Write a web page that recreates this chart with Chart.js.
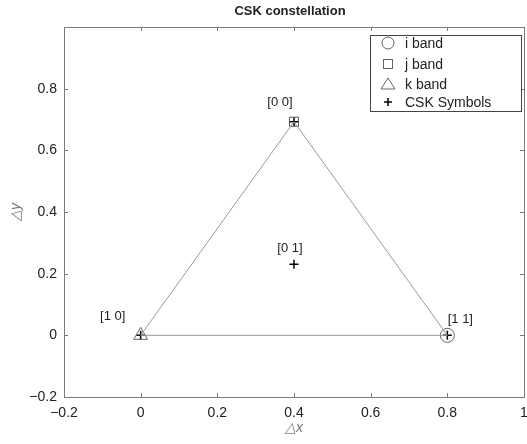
<!DOCTYPE html>
<html>
<head>
<meta charset="utf-8">
<script src="https://cdn.jsdelivr.net/npm/chart.js@4"></script>
<style>
  html, body { margin: 0; padding: 0; background: #fff; }
  #wrap { width: 527px; height: 444px; }
</style>
</head>
<body>
<div id="wrap"><canvas id="cskChart" width="527" height="444"></canvas></div>
<script>
// triangle edges (closed)
var edgeX = [0, 0.4, 0.8, 0];
var edgeY = [0, 0.6928, 0, 0];

// band markers
var iBandX = [0.8], iBandY = [0];
var jBandX = [0.4], jBandY = [0.6928];
var kBandX = [0], kBandY = [0];

// CSK symbols
var symbolX = [0.4, 0.4, 0, 0.8];
var symbolY = [0.6928, 0.2309, 0, 0];
var symbolNames = ['[0 0]', '[0 1]', '[1 0]', '[1 1]'];

var xTicks = [-0.2, 0, 0.2, 0.4, 0.6, 0.8, 1];
var yTicks = [-0.2, 0, 0.2, 0.4, 0.6, 0.8];

var legendNames = ['i band', 'j band', 'k band', 'CSK Symbols'];

// where the symbol names sit, relative to the point (px)
var nameOffsets = [[-14, -19], [-4, -16], [-28, -19], [13, -16]];

var FONT = '"Liberation Sans", Arial, sans-serif';

function pts(xs, ys) {
    return xs.map(function (x, i) { return {x: x, y: ys[i]}; });
}

function fmt(v) {
    var r = Math.round(v * 10) / 10;
    if (r === 0) return '0';
    return (r < 0 ? '\u2212' : '') + Math.abs(r);
}

var frame = {
    id: 'frame',
    afterDraw: function (chart) {
        var c = chart.ctx, a = chart.chartArea;
        var xs = chart.scales.x, ys = chart.scales.y;
        c.save();
        c.strokeStyle = '#7a7a7a';
        c.lineWidth = 1;
        c.strokeRect(a.left + 0.5, a.top + 0.5, a.right - a.left, a.bottom - a.top);
        c.beginPath();
        xTicks.forEach(function (t) {
            var px = Math.round(xs.getPixelForValue(t)) + 0.5;
            c.moveTo(px, a.bottom); c.lineTo(px, a.bottom - 4);
            c.moveTo(px, a.top); c.lineTo(px, a.top + 4);
        });
        yTicks.forEach(function (t) {
            var py = Math.round(ys.getPixelForValue(t)) + 0.5;
            c.moveTo(a.left, py); c.lineTo(a.left + 4, py);
            c.moveTo(a.right, py); c.lineTo(a.right - 4, py);
        });
        c.stroke();

        // symbol names
        c.fillStyle = '#222';
        c.font = '13px ' + FONT;
        c.textAlign = 'center';
        c.textBaseline = 'middle';
        symbolNames.forEach(function (n, i) {
            var px = xs.getPixelForValue(symbolX[i]);
            var py = ys.getPixelForValue(symbolY[i]);
            c.fillText(n, px + nameOffsets[i][0], py + nameOffsets[i][1]);
        });

        // title and axis titles
        c.font = 'bold 13px ' + FONT;
        c.fillText('CSK constellation', 290, 11);
        c.fillStyle = '#777';
        c.font = 'italic 14px ' + FONT;
        c.fillText('\u25b3x', xs.getPixelForValue(0.4), 428);
        c.save();
        c.translate(16, ys.getPixelForValue(0.4));
        c.rotate(-Math.PI / 2);
        c.fillText('\u25b3y', 0, 0);
        c.restore();

        // legend
        var lx = 370, ly = 35, lw = 151, lh = 76;
        c.fillStyle = '#fff';
        c.fillRect(lx, ly, lw, lh);
        c.strokeStyle = '#444';
        c.lineWidth = 1;
        c.strokeRect(lx + 0.5, ly + 0.5, lw, lh);
        var rows = [43, 64, 84, 102];
        var mx = 388;
        c.strokeStyle = '#666';
        c.beginPath(); c.arc(mx, rows[0], 6, 0, Math.PI * 2); c.stroke();
        c.strokeRect(mx - 4.5, rows[1] - 4.5, 9, 9);
        c.beginPath();
        c.moveTo(mx - 7, rows[2] + 5); c.lineTo(mx + 7, rows[2] + 5); c.lineTo(mx, rows[2] - 6);
        c.closePath(); c.stroke();
        c.strokeStyle = '#000';
        c.lineWidth = 1.5;
        c.beginPath();
        c.moveTo(mx - 4, rows[3]); c.lineTo(mx + 4, rows[3]);
        c.moveTo(mx, rows[3] - 4); c.lineTo(mx, rows[3] + 4);
        c.stroke();
        c.fillStyle = '#222';
        c.font = '14px ' + FONT;
        c.textAlign = 'left';
        legendNames.forEach(function (n, i) { c.fillText(n, 405, rows[i] + 1); });
        c.restore();
    }
};

var ctx = document.getElementById('cskChart');
var chart = new Chart(ctx, {
    type: 'scatter',
    data: {
        datasets: [
            {label: 'edges', data: pts(edgeX, edgeY), showLine: true,
             borderColor: '#9a9a9a', borderWidth: 1, pointRadius: 0},
            {label: 'i band', data: pts(iBandX, iBandY), pointStyle: 'circle',
             pointRadius: 7, borderColor: '#666', backgroundColor: 'rgba(0,0,0,0)', borderWidth: 1},
            {label: 'j band', data: pts(jBandX, jBandY), pointStyle: 'rect',
             pointRadius: 6.4, borderColor: '#555', backgroundColor: 'rgba(0,0,0,0)', borderWidth: 1},
            {label: 'k band', data: pts(kBandX, kBandY), pointStyle: 'triangle',
             pointRadius: 8, borderColor: '#666', backgroundColor: 'rgba(0,0,0,0)', borderWidth: 1},
            {label: 'CSK Symbols', data: pts(symbolX, symbolY), pointStyle: 'cross',
             pointRadius: 4.5, borderColor: '#000', borderWidth: 1.5}
        ]
    },
    options: {
        responsive: false,
        animation: false,
        layout: {autoPadding: false, padding: {top: 27, right: 3, left: 0, bottom: 0}},
        plugins: {legend: {display: false}, tooltip: {enabled: false}, title: {display: false}},
        scales: {
            x: {
                type: 'linear', min: -0.2, max: 1,
                grid: {display: false, drawTicks: false},
                border: {display: false},
                afterFit: function (s) { s.height = 47; s.paddingLeft = 0; s.paddingRight = 0; },
                afterBuildTicks: function (s) { s.ticks = xTicks.map(function (v) { return {value: v}; }); },
                ticks: {color: '#222', padding: 8, maxRotation: 0, font: {family: FONT, size: 14},
                        callback: function (v) { return fmt(v); }}
            },
            y: {
                type: 'linear', min: -0.2, max: 1,
                grid: {display: false, drawTicks: false},
                border: {display: false},
                afterFit: function (s) { s.width = 64; s.paddingTop = 0; s.paddingBottom = 0; },
                afterBuildTicks: function (s) { s.ticks = yTicks.map(function (v) { return {value: v}; }); },
                ticks: {color: '#222', padding: 7, font: {family: FONT, size: 14},
                        callback: function (v) { return fmt(v); }}
            }
        }
    },
    plugins: [frame]
});
</script>
</body>
</html>
